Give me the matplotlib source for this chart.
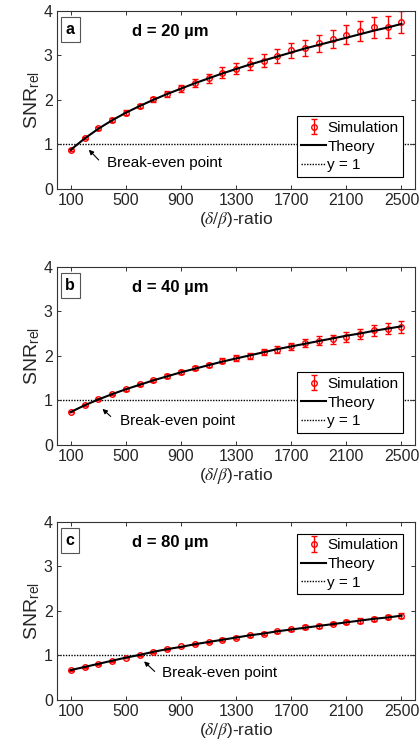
import matplotlib
matplotlib.use("Agg")
import matplotlib.pyplot as plt
import numpy as np

plt.rcParams["font.family"] = ["Liberation Sans", "DejaVu Sans"]
plt.rcParams["mathtext.fontset"] = "stix"

# delta/beta ratio
ratio = [100, 200, 300, 400, 500, 600, 700, 800, 900, 1000, 1100, 1200, 1300,
         1400, 1500, 1600, 1700, 1800, 1900, 2000, 2100, 2200, 2300, 2400, 2500]

# simulation, d = 20 um
sim_20 = [0.88, 1.14, 1.36, 1.55, 1.71, 1.86, 2.01, 2.13, 2.26, 2.37, 2.48, 2.61, 2.70,
          2.80, 2.88, 2.98, 3.11, 3.17, 3.27, 3.37, 3.46, 3.54, 3.62, 3.63, 3.75]
err_20 = [0.02, 0.03, 0.03, 0.04, 0.05, 0.05, 0.06, 0.07, 0.08, 0.09, 0.10, 0.12, 0.13,
          0.14, 0.15, 0.16, 0.17, 0.18, 0.19, 0.20, 0.22, 0.23, 0.23, 0.24, 0.25]
theory_20 = [0.88, 1.13, 1.35, 1.54, 1.71, 1.86, 2.00, 2.13, 2.25, 2.37, 2.48, 2.59, 2.69,
             2.79, 2.88, 2.97, 3.06, 3.15, 3.23, 3.31, 3.39, 3.47, 3.55, 3.62, 3.70]

# simulation, d = 40 um
sim_40 = [0.74, 0.89, 1.03, 1.14, 1.25, 1.36, 1.45, 1.55, 1.64, 1.73, 1.79, 1.89, 1.95,
          2.00, 2.08, 2.14, 2.21, 2.28, 2.34, 2.37, 2.42, 2.49, 2.57, 2.61, 2.65]
err_40 = [0.01, 0.02, 0.02, 0.02, 0.03, 0.03, 0.03, 0.04, 0.04, 0.05, 0.05, 0.06, 0.06,
          0.07, 0.07, 0.08, 0.08, 0.09, 0.10, 0.10, 0.11, 0.12, 0.12, 0.13, 0.14]
theory_40 = [0.74, 0.89, 1.02, 1.14, 1.25, 1.35, 1.45, 1.54, 1.63, 1.71, 1.79, 1.87, 1.94,
             2.01, 2.08, 2.15, 2.21, 2.27, 2.33, 2.39, 2.45, 2.50, 2.56, 2.61, 2.66]

# simulation, d = 80 um
sim_80 = [0.67, 0.73, 0.80, 0.87, 0.94, 1.01, 1.08, 1.14, 1.20, 1.25, 1.30, 1.35, 1.40,
          1.45, 1.49, 1.54, 1.58, 1.64, 1.66, 1.71, 1.75, 1.78, 1.82, 1.86, 1.89]
err_80 = [0.01, 0.01, 0.01, 0.01, 0.01, 0.02, 0.02, 0.02, 0.02, 0.02, 0.02, 0.03, 0.03,
          0.03, 0.03, 0.03, 0.04, 0.04, 0.04, 0.04, 0.04, 0.05, 0.05, 0.05, 0.05]
theory_80 = [0.67, 0.74, 0.81, 0.88, 0.95, 1.01, 1.08, 1.14, 1.19, 1.25, 1.30, 1.35, 1.40,
             1.45, 1.49, 1.54, 1.58, 1.62, 1.66, 1.70, 1.74, 1.78, 1.82, 1.85, 1.89]

# label, title, data, legend loc, arrow head / tail, text start
panels = [
    ("a", "d = 20 µm", sim_20, err_20, theory_20, "lower right", (231, 0.88), (303, 0.65), (361, 0.58)),
    ("b", "d = 40 µm", sim_40, err_40, theory_40, "lower right", (330, 0.81), (390, 0.64), (457, 0.53)),
    ("c", "d = 80 µm", sim_80, err_80, theory_80, "upper right", (632, 0.865), (709, 0.64), (760, 0.60)),
]

fig = plt.figure(figsize=(4.19, 7.53), dpi=100)
bottoms = [0.749, 0.409, 0.0704]

for (lab, dtxt, sim, err, th, legloc, head, tail, txt), b in zip(panels, bottoms):
    ax = fig.add_axes([0.136, b, 0.855, 0.237])
    ax.axhline(1, color="black", ls=(0, (1, 1)), lw=1.0, zorder=1, label="y = 1")
    ax.errorbar(ratio, sim, yerr=err, fmt="o", color="red", mfc="none", ms=4, mew=1.0,
                elinewidth=1.0, capsize=2.5, capthick=1.0, zorder=2, label="Simulation")
    ax.plot(ratio, th, color="black", lw=1.5, zorder=3, label="Theory")

    ax.set_xlim(0, 2600)
    ax.set_ylim(0, 4)
    ax.set_xticks(range(100, 2600, 400))
    ax.set_yticks([0, 1, 2, 3, 4])
    ax.tick_params(direction="in", top=True, right=True, labelsize=11.5, length=3,
                   width=0.7, color="#333333", pad=3, labelcolor="#262626")
    for s in ax.spines.values():
        s.set_linewidth(0.8)
        s.set_color("#333333")
    ax.set_xlabel(r"($\delta/\beta$)-ratio", fontsize=12.5, labelpad=1, color="#262626")
    ax.set_ylabel(r"SNR$_\mathregular{rel}$", fontsize=14, labelpad=1, color="#262626")

    ax.text(0.037, 0.893, lab, transform=ax.transAxes, ha="center", va="center",
            fontsize=11.5, fontweight="bold",
            bbox=dict(boxstyle="square,pad=0.3", fc="white", ec="#555555", lw=0.8))
    ax.text(0.21, 0.885, dtxt, transform=ax.transAxes, ha="left", va="center",
            fontsize=12, fontweight="bold")

    ax.annotate("", xy=head, xytext=tail,
                arrowprops=dict(arrowstyle="-|>", color="black", lw=0.8, mutation_scale=7,
                                shrinkA=0, shrinkB=0))
    ax.text(txt[0], txt[1], "Break-even point", fontsize=11, ha="left", va="center")

    h, l = ax.get_legend_handles_labels()
    order = [l.index("Simulation"), l.index("Theory"), l.index("y = 1")]
    leg = ax.legend([h[i] for i in order], [l[i] for i in order], loc=legloc,
                    fontsize=11, frameon=True, fancybox=False, framealpha=1,
                    edgecolor="black", handlelength=1.6, handletextpad=0.1,
                    borderpad=0.3, labelspacing=0.3, borderaxespad=0.8)
    leg.get_frame().set_linewidth(0.8)

fig.savefig("out.png", dpi=100)
